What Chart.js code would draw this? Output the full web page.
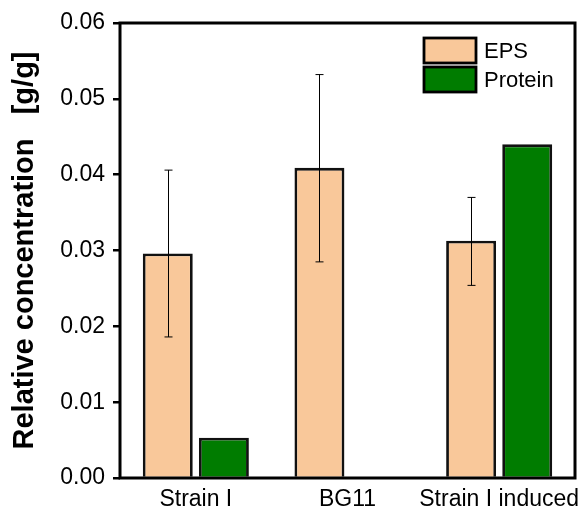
<!DOCTYPE html>
<html>
<head>
<meta charset="utf-8">
<script src="https://cdn.jsdelivr.net/npm/chart.js@4/dist/chart.umd.min.js"></script>
<style>
  html, body { margin: 0; padding: 0; background: #fff; }
  #wrap { width: 585px; height: 506px; position: relative; }
</style>
</head>
<body>
<div id="wrap"><canvas id="c" width="585" height="506"></canvas></div>
<script>
// ---- data ----
const categories = ["Strain I", "BG11", "Strain I induced"];
const seriesNames = ["EPS", "Protein"];
const epsValues = [0.0296, 0.0409, 0.0313];
const epsErrLow = [0.0186, 0.0285, 0.0254];
const epsErrHigh = [0.0406, 0.0532, 0.0370];
const proteinValues = [0.0053, null, 0.0440];
const yTicks = [0.00, 0.01, 0.02, 0.03, 0.04, 0.05, 0.06];
const yTitle = "Relative concentration   [g/g]";

const FONT = "'Liberation Sans', Arial, Helvetica, sans-serif";

const errorBarPlugin = {
  id: 'errorBars',
  afterDatasetsDraw(chart) {
    const meta = chart.getDatasetMeta(0);
    const ys = chart.scales.y;
    const ctx = chart.ctx;
    ctx.save();
    ctx.strokeStyle = '#000';
    ctx.lineWidth = 1;
    meta.data.forEach((el, i) => {
      const x = Math.round(el.x) + 0.5;
      const yl = ys.getPixelForValue(epsErrLow[i]);
      const yh = ys.getPixelForValue(epsErrHigh[i]);
      ctx.beginPath();
      ctx.moveTo(x, yl); ctx.lineTo(x, yh);
      ctx.moveTo(x - 4, yl); ctx.lineTo(x + 4, yl);
      ctx.moveTo(x - 4, yh); ctx.lineTo(x + 4, yh);
      ctx.stroke();
    });
    ctx.restore();
  }
};

const frameLegendPlugin = {
  id: 'frameLegend',
  afterDraw(chart) {
    const ctx = chart.ctx;
    const a = chart.chartArea;
    ctx.save();
    ctx.strokeStyle = '#000';
    ctx.lineWidth = 3;
    ctx.strokeRect(a.left, a.top, a.right - a.left, a.bottom - a.top);
    // legend
    const bx = a.right - 151, by = a.top + 15, bw = 52, bh = 25, gap = 4;
    ctx.font = "22px " + FONT;
    ctx.textBaseline = 'middle';
    ctx.textAlign = 'left';
    chart.data.datasets.forEach((ds, i) => {
      const y = by + i * (bh + gap);
      ctx.fillStyle = ds.backgroundColor;
      ctx.fillRect(bx, y, bw, bh);
      ctx.lineWidth = 2.8;
      ctx.strokeStyle = '#000';
      ctx.strokeRect(bx, y, bw, bh);
      ctx.fillStyle = '#000';
      ctx.fillText(ds.label, bx + bw + 8, y + bh / 2 + 1);
    });
    ctx.restore();
  }
};

new Chart(document.getElementById('c'), {
  type: 'bar',
  data: {
    labels: categories,
    datasets: [
      { label: seriesNames[0], data: epsValues, backgroundColor: '#F9C89A', borderColor: '#111', borderWidth: 2.8,
        categoryPercentage: 0.74, barPercentage: 0.89 },
      { label: seriesNames[1], data: proteinValues, backgroundColor: '#007C00', borderColor: '#111', borderWidth: 2.8,
        categoryPercentage: 0.74, barPercentage: 0.89 }
    ]
  },
  options: {
    responsive: false,
    animation: false,
    devicePixelRatio: 1,
    layout: { padding: { top: 23, right: 10, left: 0, bottom: 0 } },
    plugins: { legend: { display: false }, tooltip: { enabled: false } },
    scales: {
      x: {
        afterFit(s) { s.height = 28; },
        grid: { display: false },
        border: { display: false },
        ticks: { color: '#000', font: { family: FONT, size: 23 }, padding: 0, maxRotation: 0, minRotation: 0, autoSkip: false }
      },
      y: {
        min: 0, max: 0.06,
        afterFit(s) { s.width = 120; },
        afterBuildTicks(s) { s.ticks = yTicks.map(v => ({ value: v })); },
        grid: { display: true, drawOnChartArea: false, drawTicks: true, tickLength: 7, color: '#000', lineWidth: 2.5 },
        border: { display: false },
        ticks: { color: '#000', font: { family: FONT, size: 23 }, padding: 8, callback: v => Number(v).toFixed(2) },
        title: { display: true, text: yTitle, color: '#000', font: { family: FONT, size: 29, weight: 'bold' }, padding: { top: 8, bottom: 0 } }
      }
    }
  },
  plugins: [errorBarPlugin, frameLegendPlugin]
});
</script>
</body>
</html>
